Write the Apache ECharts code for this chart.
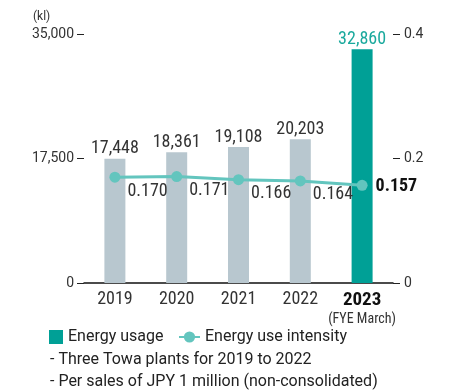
<!DOCTYPE html>
<html>
<head>
<meta charset="utf-8">
<script src="https://cdn.jsdelivr.net/npm/echarts@6/dist/echarts.min.js"></script>
<style>
  html, body { margin: 0; padding: 0; background: #ffffff; }
  #chart { width: 452px; height: 392px; }
</style>
</head>
<body>
<div id="chart"></div>
<script>
// Fiscal years (FYE March)
const years = ['2019', '2020', '2021', '2022', '2023'];
// Energy usage (kl)
const energyUsage = [17448, 18361, 19108, 20203, 32860];
// Energy use intensity (per JPY 1 million of sales)
const energyIntensity = [0.170, 0.171, 0.166, 0.164, 0.157];
// Axis ticks
const usageTicks = [0, 17500, 35000];
const intensityTicks = [0, 0.2, 0.4];

const FONT = 'Roboto, "Noto Sans", sans-serif';
const NARROW = '"Liberation Sans Narrow", "Roboto Condensed", Roboto, sans-serif';
const TEXT = '#333333';
const GRAY_BAR = '#b8c7cf';
const TEAL = '#00a096';
const LINE = '#63c5be';
const last = years.length - 1;

const chart = echarts.init(document.getElementById('chart'), null, { renderer: 'canvas' });

const fmtNum = v => v.toLocaleString('en-US');

chart.setOption({
  backgroundColor: '#ffffff',
  animation: false,
  textStyle: { fontFamily: FONT },
  grid: { left: 84, right: 59, top: 34, bottom: 109, containLabel: false },
  legend: [
    {
      left: 44, top: 324, itemWidth: 14, itemHeight: 14, itemGap: 10,
      textStyle: { fontFamily: FONT, fontSize: 16, color: '#222' },
      data: [{ name: 'Energy usage', icon: 'rect', itemStyle: { color: TEAL } }]
    },
    {
      left: 173, top: 324, itemWidth: 21, itemHeight: 14,
      textStyle: { fontFamily: FONT, fontSize: 16, color: '#222' },
      data: [{ name: 'Energy use intensity' }]
    }
  ],
  title: {
    left: 45, top: 344,
    text: '- Three Towa plants for 2019 to 2022\n- Per sales of JPY 1 million (non-consolidated)',
    textStyle: { fontFamily: FONT, fontSize: 16, fontWeight: 'normal', color: '#222', lineHeight: 22 }
  },
  graphic: [{
    type: 'text', left: 33, top: 11,
    style: { text: '(kl)', font: '12px ' + FONT, fill: TEXT }
  }],
  xAxis: {
    type: 'category',
    data: years,
    axisLine: { lineStyle: { color: '#111', width: 1.5 } },
    axisTick: { show: false },
    axisLabel: {
      margin: 7,
      interval: 0,
      fontFamily: NARROW,
      fontSize: 18,
      color: TEXT,
      formatter: (v, i) => i === last ? '{b|' + v + '}\n{s|(FYE March)}' : v,
      rich: {
        b: { fontFamily: NARROW, fontSize: 19, fontWeight: 'bold', color: '#111', lineHeight: 21 },
        s: { fontFamily: NARROW, fontSize: 14, color: TEXT, lineHeight: 17 }
      }
    }
  },
  yAxis: [
    {
      type: 'value',
      min: usageTicks[0], max: usageTicks[usageTicks.length - 1], interval: usageTicks[1] - usageTicks[0],
      axisLine: { show: false },
      axisTick: { show: true, length: 7, lineStyle: { color: '#222', width: 1 } },
      splitLine: { show: false },
      axisLabel: { margin: 10, fontFamily: FONT, fontSize: 14, color: TEXT, formatter: v => fmtNum(v) }
    },
    {
      type: 'value',
      min: intensityTicks[0], max: intensityTicks[intensityTicks.length - 1], interval: intensityTicks[1] - intensityTicks[0],
      position: 'right',
      axisLine: { show: false },
      axisTick: { show: true, length: 7, lineStyle: { color: '#222', width: 1 } },
      splitLine: { show: false },
      axisLabel: { margin: 11, fontFamily: FONT, fontSize: 14, color: TEXT, formatter: v => String(v) }
    }
  ],
  series: [
    {
      name: 'Energy usage',
      type: 'bar',
      barWidth: 21,
      yAxisIndex: 0,
      itemStyle: { color: TEAL },
      data: energyUsage.map((v, i) => ({
        value: v,
        itemStyle: { color: i === last ? TEAL : GRAY_BAR },
        label: i === last
          ? { color: '#1aa99d', fontSize: 18 }
          : { color: TEXT, fontSize: 18 }
      })),
      label: {
        show: true, position: 'top', distance: 1,
        fontFamily: NARROW,
        formatter: p => fmtNum(p.value)
      },
      z: 2
    },
    {
      name: 'Energy use intensity',
      type: 'line',
      yAxisIndex: 1,
      symbol: 'circle',
      symbolSize: 11,
      lineStyle: { color: LINE, width: 3 },
      itemStyle: { color: LINE },
      data: energyIntensity.map((v, i) => ({
        value: v,
        label: i === last
          ? { offset: [3, 1], fontWeight: 'bold', color: '#111', fontSize: 18 }
          : { offset: [2, 14], color: TEXT, fontSize: 18 }
      })),
      label: {
        show: true, position: 'right', distance: 5,
        fontFamily: NARROW,
        formatter: p => p.value.toFixed(3)
      },
      z: 3
    }
  ]
});
</script>
</body>
</html>
